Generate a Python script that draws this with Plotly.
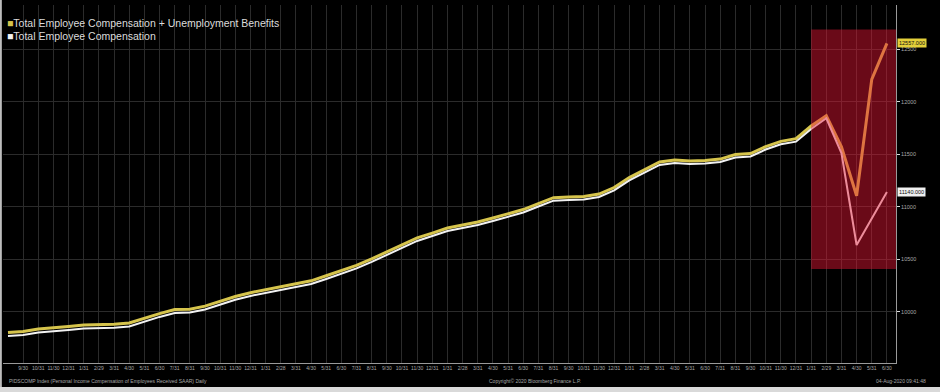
import plotly.graph_objects as go

dates = [
    "2015-08-31", "2015-09-30", "2015-10-31", "2015-11-30", "2015-12-31",
    "2016-01-31", "2016-02-29", "2016-03-31", "2016-04-30", "2016-05-31", "2016-06-30",
    "2016-07-31", "2016-08-31", "2016-09-30", "2016-10-31", "2016-11-30", "2016-12-31",
    "2017-01-31", "2017-02-28", "2017-03-31", "2017-04-30", "2017-05-31", "2017-06-30",
    "2017-07-31", "2017-08-31", "2017-09-30", "2017-10-31", "2017-11-30", "2017-12-31",
    "2018-01-31", "2018-02-28", "2018-03-31", "2018-04-30", "2018-05-31", "2018-06-30",
    "2018-07-31", "2018-08-31", "2018-09-30", "2018-10-31", "2018-11-30", "2018-12-31",
    "2019-01-31", "2019-02-28", "2019-03-31", "2019-04-30", "2019-05-31", "2019-06-30",
    "2019-07-31", "2019-08-31", "2019-09-30", "2019-10-31", "2019-11-30", "2019-12-31",
    "2020-01-31", "2020-02-29", "2020-03-31", "2020-04-30", "2020-05-31", "2020-06-30",
]

comp = [
    9768, 9778, 9802, 9811, 9826, 9840, 9842, 9848, 9859, 9907,
    9950, 9988, 9992, 10021, 10069, 10114, 10150, 10178, 10207, 10231,
    10264, 10312, 10359, 10412, 10474, 10540, 10602, 10674, 10721, 10769,
    10797, 10826, 10864, 10902, 10945, 11002, 11058, 11064, 11069, 11093,
    11155, 11250, 11321, 11398, 11417, 11407, 11412, 11426, 11469, 11479,
    11545, 11595, 11620, 11741, 11843, 11512, 10635, 10888, 11140,
]

comp_plus_ui = [
    9801, 9811, 9835, 9844, 9859, 9873, 9875, 9881, 9892, 9940,
    9982, 10020, 10024, 10053, 10100, 10145, 10181, 10209, 10238, 10262,
    10294, 10342, 10389, 10441, 10503, 10569, 10631, 10703, 10749, 10797,
    10825, 10854, 10892, 10930, 10973, 11030, 11086, 11092, 11097, 11121,
    11183, 11278, 11349, 11426, 11445, 11435, 11440, 11454, 11497, 11507,
    11573, 11623, 11648, 11769, 11868, 11572, 11105, 12214, 12557,
]

y_ticks = [10000, 10500, 11000, 11500, 12000, 12500]
highlight_start = "2020-01-31"
highlight_low, highlight_high = 10407, 12688

series_names = ["Total Employee Compensation + Unemployment Benefits",
                "Total Employee Compensation"]
footer_left = "PIDSCOMP Index (Personal Income Compensation of Employees Received SAAR) Daily"
footer_mid = "Copyright\u00a9 2020 Bloomberg Finance L.P."
footer_right = "04-Aug-2020 09:41:48"

YELLOW = "#d6c44c"
WHITE = "#f2f2f2"
GRID = "#2b2b2b"
TXT = "#a8a8a8"

x_end = len(dates) - 0.4
tick_text = [f"{int(d[5:7])}/{int(d[8:10])}" for d in dates]

fig = go.Figure()
fig.add_trace(go.Scatter(x=dates, y=comp_plus_ui, mode="lines",
                         line=dict(color=YELLOW, width=3), name=series_names[0]))
fig.add_trace(go.Scatter(x=dates, y=comp, mode="lines",
                         line=dict(color=WHITE, width=2), name=series_names[1]))

# highlight box (drawn above the lines, semi-transparent)
fig.add_shape(type="rect", xref="x", yref="y",
              x0=dates.index(highlight_start), x1=x_end,
              y0=highlight_low, y1=highlight_high,
              fillcolor="rgba(232,22,52,0.46)", line=dict(width=0), layer="above")

# frame bits of the screenshot
fig.add_shape(type="rect", xref="paper", yref="paper", x0=-0.0034, x1=-0.0013,
              y0=-0.08, y1=1.02, fillcolor="#bdbdbd", line=dict(width=0))

annotations = []
# legend
annotations.append(dict(xref="paper", yref="paper", x=0.0025, y=1.0 - (23 - 5) / 358,
                        xanchor="left", yanchor="middle", showarrow=False,
                        text=f"<span style='color:{YELLOW}'>■</span>{series_names[0]}",
                        font=dict(family="Liberation Sans, Arial", size=10.5, color="#dcdcdc")))
annotations.append(dict(xref="paper", yref="paper", x=0.0025, y=1.0 - (36 - 5) / 358,
                        xanchor="left", yanchor="middle", showarrow=False,
                        text=f"<span style='color:{WHITE}'>■</span>{series_names[1]}",
                        font=dict(family="Liberation Sans, Arial", size=10.5, color="#dcdcdc")))
# last value tags
annotations.append(dict(xref="paper", yref="y", x=1.001, y=comp_plus_ui[-1],
                        xanchor="left", yanchor="middle", showarrow=False,
                        text=f"{comp_plus_ui[-1]:.3f}", bgcolor="#e3cf3a",
                        font=dict(family="Liberation Sans, Arial", size=5.5, color="#111111"),
                        borderpad=1))
annotations.append(dict(xref="paper", yref="y", x=1.001, y=comp[-1],
                        xanchor="left", yanchor="middle", showarrow=False,
                        text=f"{comp[-1]:.3f}", bgcolor="#f0f0f0",
                        font=dict(family="Liberation Sans, Arial", size=5.5, color="#111111"),
                        borderpad=1))
# footers
fy = -(381 - 363) / 358
annotations.append(dict(xref="paper", yref="paper", x=0.0045, y=fy, xanchor="left",
                        yanchor="middle", showarrow=False, text=footer_left,
                        font=dict(family="Liberation Sans, Arial", size=5, color=TXT)))
annotations.append(dict(xref="paper", yref="paper", x=(535 - 3) / 893, y=fy, xanchor="center",
                        yanchor="middle", showarrow=False, text=footer_mid,
                        font=dict(family="Liberation Sans, Arial", size=5, color=TXT)))
annotations.append(dict(xref="paper", yref="paper", x=(901 - 3) / 893, y=fy, xanchor="center",
                        yanchor="middle", showarrow=False, text=footer_right,
                        font=dict(family="Liberation Sans, Arial", size=5, color=TXT)))

fig.update_layout(
    width=940, height=392,
    margin=dict(l=3, r=44, t=5, b=29),
    paper_bgcolor="#000000", plot_bgcolor="#000000",
    showlegend=False,
    annotations=annotations,
    xaxis=dict(type="category", range=[-0.33, x_end],
               tickmode="array", tickvals=dates[1:], ticktext=tick_text[1:],
               tickangle=0, tickfont=dict(family="Liberation Sans, Arial", size=5, color=TXT),
               showgrid=True, gridcolor=GRID, gridwidth=1,
               showline=True, linecolor="#9a9a9a", linewidth=1,
               ticks="", zeroline=False),
    yaxis=dict(side="right", range=[9511, 12922], tickvals=y_ticks,
               ticktext=[str(v) for v in y_ticks],
               tickfont=dict(family="Liberation Sans, Arial", size=5.5, color=TXT),
               showgrid=True, gridcolor=GRID, gridwidth=1,
               showline=True, linecolor="#9a9a9a", linewidth=1,
               ticks="outside", ticklen=3, tickcolor="#dddddd", zeroline=False),
)
fig.add_shape(type="rect", xref="paper", yref="paper", x0=-0.01, x1=1.06,
              y0=-(387 - 363) / 358, y1=-(393 - 363) / 358,
              fillcolor="#d9d9d9", line=dict(width=0))

fig.write_html("out.html")
